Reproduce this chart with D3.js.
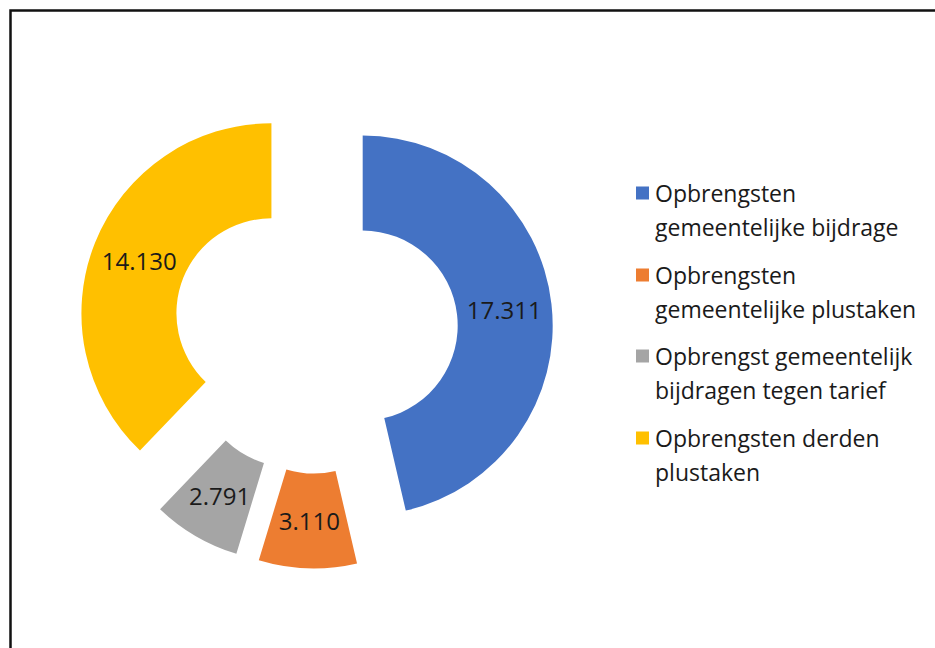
<!DOCTYPE html>
<html>
<head>
<meta charset="utf-8">
<script src="https://cdn.jsdelivr.net/npm/d3@7"></script>
<style>
  html, body { margin: 0; padding: 0; background: #fff; overflow: hidden; }
  svg { display: block; }
</style>
</head>
<body>
<svg id="chart" width="935" height="648"></svg>
<script>
// ---- data ----
const categories = [
  "Opbrengsten gemeentelijke bijdrage",
  "Opbrengsten gemeentelijke plustaken",
  "Opbrengst gemeentelijk bijdragen tegen tarief",
  "Opbrengsten derden plustaken"
];
const values = [17311, 3110, 2791, 14130];
const valueLabels = ["17.311", "3.110", "2.791", "14.130"];
const legendLines = [
  ["Opbrengsten", "gemeentelijke bijdrage"],
  ["Opbrengsten", "gemeentelijke plustaken"],
  ["Opbrengst gemeentelijk", "bijdragen tegen tarief"],
  ["Opbrengsten derden", "plustaken"]
];
const colors = ["#4472C4", "#ED7D31", "#A5A5A5", "#FFC000"];

// ---- layout ----
const svg = d3.select("#chart");
const font = "'Open Sans', 'Liberation Sans', sans-serif";

// frame (right and bottom edges run off the page)
svg.append("rect")
  .attr("x", 10.5).attr("y", 10.5)
  .attr("width", 1000).attr("height", 1000)
  .attr("fill", "none").attr("stroke", "#111").attr("stroke-width", 2.5);

const cx = 315.5, cy = 331, R = 190, r = 95, explode = 47.5;

const pie = d3.pie().sort(null).value(d => d)(values);
const arc = d3.arc().innerRadius(r).outerRadius(R);

const g = svg.append("g").attr("transform", `translate(${cx},${cy})`);

const slices = g.selectAll("g.slice").data(pie).join("g")
  .attr("class", "slice")
  .attr("transform", d => {
    const m = (d.startAngle + d.endAngle) / 2;
    return `translate(${explode * Math.sin(m)},${-explode * Math.cos(m)})`;
  });

slices.append("path")
  .attr("d", arc)
  .attr("fill", (d, i) => colors[i]);

slices.append("text")
  .attr("transform", d => `translate(${arc.centroid(d)})`)
  .attr("text-anchor", "middle")
  .attr("dominant-baseline", "central")
  .attr("font-family", font)
  .attr("font-size", 24)
  .attr("fill", "#1a1a1a")
  .text((d, i) => valueLabels[i]);

// ---- legend ----
const legend = svg.append("g").attr("transform", "translate(636,0)");
const entryY = [193, 275, 356, 438];
const lineGap = 34;

legendLines.forEach((lines, i) => {
  const eg = legend.append("g").attr("transform", `translate(0,${entryY[i]})`);
  eg.append("rect")
    .attr("x", 0).attr("y", -6.5)
    .attr("width", 13).attr("height", 13)
    .attr("fill", colors[i]);
  lines.forEach((t, j) => {
    eg.append("text")
      .attr("x", 19).attr("y", j * lineGap)
      .attr("dominant-baseline", "central")
      .attr("font-family", font)
      .attr("font-size", 23)
      .attr("fill", "#1a1a1a")
      .text(t);
  });
});
</script>
</body>
</html>
